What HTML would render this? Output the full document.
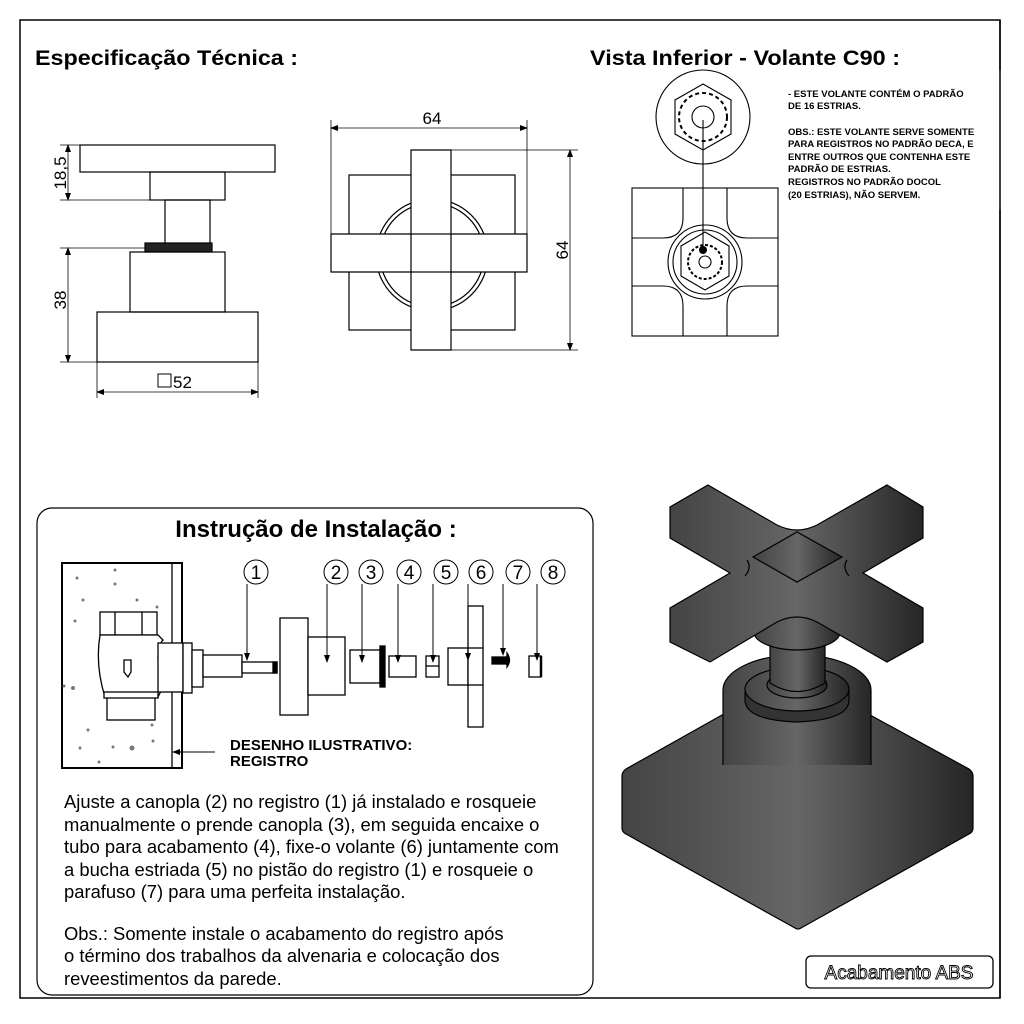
<!DOCTYPE html>
<html><head><meta charset="utf-8"><style>
html,body{margin:0;padding:0;background:#fff}
svg{display:block}
text{font-family:"Liberation Sans",sans-serif}
</style></head><body>
<svg width="1024" height="1024" viewBox="0 0 1024 1024" xmlns="http://www.w3.org/2000/svg">
<defs>
<linearGradient id="g" x1="0" x2="1" y1="0" y2="0">
<stop offset="0" stop-color="#444"/><stop offset="0.5" stop-color="#666"/><stop offset="1" stop-color="#262626"/>
</linearGradient>
<marker id="ar" markerWidth="8" markerHeight="8" refX="7" refY="4" orient="auto" markerUnits="userSpaceOnUse"><path d="M0,1 L8,4 L0,7 z" fill="#000"/></marker>
<marker id="ar2" markerWidth="8" markerHeight="8" refX="1" refY="4" orient="auto" markerUnits="userSpaceOnUse"><path d="M8,1 L0,4 L8,7 z" fill="#000"/></marker>
</defs>
<rect x="20" y="20" width="980" height="978" fill="none" stroke="#000" stroke-width="1.5"/>

<text x="35" y="65" font-size="21" font-weight="bold" textLength="263" lengthAdjust="spacingAndGlyphs">Especificação Técnica :</text>
<text x="590" y="65" font-size="21" font-weight="bold" textLength="310" lengthAdjust="spacingAndGlyphs">Vista Inferior - Volante C90 :</text>

<!-- side view -->
<g fill="none" stroke="#000" stroke-width="1.2">
<rect x="80" y="145" width="195" height="27"/>
<rect x="150" y="172" width="75" height="28"/>
<rect x="165" y="200" width="45" height="44"/>
<rect x="145" y="243" width="67" height="9" fill="#222"/>
<rect x="130" y="252" width="95" height="60"/>
<rect x="97" y="312" width="161" height="50"/>
<g stroke-width="0.8">
<line x1="60" y1="145" x2="80" y2="145"/><line x1="60" y1="200" x2="150" y2="200"/>
<line x1="68" y1="145" x2="68" y2="200" marker-start="url(#ar2)" marker-end="url(#ar)"/>
<line x1="60" y1="248" x2="145" y2="248"/><line x1="60" y1="362" x2="97" y2="362"/>
<line x1="68" y1="248" x2="68" y2="362" marker-start="url(#ar2)" marker-end="url(#ar)"/>
<line x1="97" y1="362" x2="97" y2="398"/><line x1="258" y1="362" x2="258" y2="398"/>
<line x1="97" y1="392" x2="258" y2="392" marker-start="url(#ar2)" marker-end="url(#ar)"/>
</g>
<rect x="158" y="374" width="13" height="13" stroke-width="1"/>
</g>
<text x="66" y="173" font-size="17" transform="rotate(-90 66 173)" text-anchor="middle">18,5</text>
<text x="66" y="300" font-size="17" transform="rotate(-90 66 300)" text-anchor="middle">38</text>
<text x="173" y="388" font-size="17">52</text>

<!-- front view -->
<g fill="none" stroke="#000" stroke-width="1.2">
<rect x="349" y="175" width="166" height="155"/>
<circle cx="432" cy="255" r="56" fill="#fff"/>
<circle cx="432" cy="255" r="52"/>
<path d="M411,150 h40 v84 h76 v38 h-76 v78 h-40 v-78 h-80 v-38 h80 z" fill="#fff"/>
<rect x="411" y="234" width="40" height="38"/>
<g stroke-width="0.8">
<line x1="331" y1="120" x2="331" y2="234"/><line x1="527" y1="120" x2="527" y2="234"/>
<line x1="331" y1="128" x2="527" y2="128" marker-start="url(#ar2)" marker-end="url(#ar)"/>
<line x1="451" y1="150" x2="578" y2="150"/><line x1="451" y1="350" x2="578" y2="350"/>
<line x1="570" y1="150" x2="570" y2="350" marker-start="url(#ar2)" marker-end="url(#ar)"/>
</g>
</g>
<text x="432" y="124" font-size="17" text-anchor="middle">64</text>
<text x="568" y="250" font-size="17" transform="rotate(-90 568 250)" text-anchor="middle">64</text>

<!-- bottom view -->
<g fill="none" stroke="#000" stroke-width="1.1">
<circle cx="703" cy="117" r="47"/>
<polygon points="703,84 731,100 731,134 703,150 675,134 675,100"/>
<circle cx="703" cy="117" r="24" stroke-dasharray="4 3" stroke-width="2"/>
<circle cx="703" cy="117" r="11"/>
<rect x="632" y="188" width="146" height="148"/>
<path d="M683,188 v30 q0,20 -20,20 h-31 M727,188 v30 q0,20 20,20 h31 M683,336 v-30 q0,-20 -20,-20 h-31 M727,336 v-30 q0,-20 20,-20 h31"/>
<circle cx="705" cy="262" r="37"/><circle cx="705" cy="262" r="32"/>
<polygon points="705,232 729,246 729,276 705,290 681,276 681,246"/>
<circle cx="705" cy="262" r="17" stroke-dasharray="3 2" stroke-width="2"/>
<circle cx="705" cy="262" r="6"/>
<line x1="703" y1="120" x2="703" y2="250"/>
</g>
<circle cx="703" cy="250" r="4" fill="#000"/>
<g font-size="9.5" font-weight="bold">
<text x="788" y="97">- ESTE VOLANTE CONTÉM O PADRÃO</text>
<text x="788" y="109">DE 16 ESTRIAS.</text>
<text x="788" y="135">OBS.: ESTE VOLANTE SERVE SOMENTE</text>
<text x="788" y="147">PARA REGISTROS NO PADRÃO DECA, E</text>
<text x="788" y="160">ENTRE OUTROS QUE CONTENHA ESTE</text>
<text x="788" y="172">PADRÃO DE ESTRIAS.</text>
<text x="788" y="185">REGISTROS NO PADRÃO DOCOL</text>
<text x="788" y="198">(20 ESTRIAS), NÃO SERVEM.</text>
</g>
<rect x="996" y="70" width="8" height="140" fill="#fff"/>
<line x1="1000" y1="20" x2="1000" y2="998" stroke="#000" stroke-width="1.5"/>

<!-- install box -->
<rect x="37" y="508" width="556" height="487" rx="15" fill="none" stroke="#000" stroke-width="1.2"/>
<text x="316" y="537" font-size="24" font-weight="bold" text-anchor="middle">Instrução de Instalação :</text>
<g stroke="#000" fill="none" stroke-width="1.3">
<rect x="62" y="563" width="120" height="205" stroke-width="2"/>
<line x1="172" y1="563" x2="172" y2="768"/>
<g fill="#777" stroke="none">
<circle cx="77" cy="578" r="1.5"/><circle cx="115" cy="570" r="1.5"/><circle cx="115" cy="584" r="1.5"/><circle cx="83" cy="600" r="1.5"/><circle cx="137" cy="600" r="1.5"/><circle cx="75" cy="621" r="1.5"/><circle cx="157" cy="607" r="1.5"/><circle cx="73" cy="688" r="2"/><circle cx="152" cy="725" r="1.5"/><circle cx="80" cy="748" r="1.5"/><circle cx="113" cy="747" r="1.5"/><circle cx="132" cy="748" r="2.5"/><circle cx="99" cy="762" r="1.5"/><circle cx="153" cy="741" r="1.5"/><circle cx="64" cy="686" r="1.5"/><circle cx="88" cy="730" r="1.5"/>
</g>
<rect x="100" y="612" width="57" height="23" fill="#fff"/>
<line x1="115" y1="612" x2="115" y2="635"/><line x1="142" y1="612" x2="142" y2="635"/>
<path d="M100,635 q-5,30 5,62 h53 l5,-10 l12,-5 l-12,-2 l-5,-20 q0,-15 5,-20 l-5,-5 z" fill="#fff"/>
<rect x="107" y="697" width="48" height="23" fill="#fff"/>
<rect x="104" y="692" width="54" height="6" fill="#fff"/>
<path d="M124,660 h7 v12 l-3,5 l-4,-5 z"/>
<rect x="158" y="643" width="25" height="49" fill="#fff"/>
<rect x="183" y="643" width="9" height="50" fill="#fff"/>
<rect x="192" y="650" width="11" height="37" fill="#fff"/>
<rect x="203" y="655" width="39" height="22" fill="#fff"/>
<rect x="242" y="662" width="35" height="11" fill="#fff"/>
<rect x="273" y="662" width="4" height="11" fill="#000"/>
<rect x="280" y="618" width="28" height="97" fill="#fff"/>
<rect x="308" y="637" width="37" height="58" fill="#fff"/>
<rect x="350" y="650" width="30" height="33"/>
<rect x="380" y="646" width="5" height="41" fill="#000"/>
<rect x="389" y="656" width="27" height="21"/>
<rect x="426" y="656" width="13" height="21"/><line x1="426" y1="666" x2="439" y2="666"/>
<rect x="448" y="648" width="20" height="37"/>
<rect x="468" y="606" width="15" height="121" fill="#fff"/>
<line x1="468" y1="648" x2="483" y2="648"/><line x1="468" y1="685" x2="483" y2="685"/>
<rect x="492" y="657" width="14" height="7" fill="#000"/>
<path d="M507,653 q5,7 0,14 z" fill="#000"/>
<rect x="529" y="656" width="12" height="21"/><line x1="541" y1="656" x2="541" y2="677" stroke-width="2.5"/>
<g stroke-width="1">
<line x1="247" y1="584" x2="247" y2="660" marker-end="url(#ar)"/>
<line x1="327" y1="584" x2="327" y2="662" marker-end="url(#ar)"/>
<line x1="362" y1="584" x2="362" y2="662" marker-end="url(#ar)"/>
<line x1="398" y1="584" x2="398" y2="662" marker-end="url(#ar)"/>
<line x1="433" y1="584" x2="433" y2="662" marker-end="url(#ar)"/>
<line x1="468" y1="584" x2="468" y2="660" marker-end="url(#ar)"/>
<line x1="503" y1="584" x2="503" y2="655" marker-end="url(#ar)"/>
<line x1="537" y1="584" x2="537" y2="660" marker-end="url(#ar)"/>
<line x1="215" y1="752" x2="173" y2="752" marker-end="url(#ar)"/>
</g>
<g stroke-width="1">
<circle cx="256" cy="572" r="12"/><circle cx="336" cy="572" r="12"/><circle cx="371" cy="572" r="12"/><circle cx="409" cy="572" r="12"/><circle cx="446" cy="572" r="12"/><circle cx="481" cy="572" r="12"/><circle cx="518" cy="572" r="12"/><circle cx="553" cy="572" r="12"/>
</g>
</g>
<g font-size="19" text-anchor="middle">
<text x="256" y="579">1</text><text x="336" y="579">2</text><text x="371" y="579">3</text><text x="409" y="579">4</text><text x="446" y="579">5</text><text x="481" y="579">6</text><text x="518" y="579">7</text><text x="553" y="579">8</text>
</g>
<text x="230" y="750" font-size="15" font-weight="bold">DESENHO ILUSTRATIVO:</text>
<text x="230" y="766" font-size="15" font-weight="bold">REGISTRO</text>
<g font-size="18.4">
<text x="64" y="808">Ajuste a canopla (2) no registro (1) já instalado e rosqueie</text>
<text x="64" y="831">manualmente o prende canopla (3), em seguida encaixe o</text>
<text x="64" y="853">tubo para acabamento (4), fixe-o volante (6) juntamente com</text>
<text x="64" y="876">a bucha estriada (5) no pistão do registro (1) e rosqueie o</text>
<text x="64" y="898">parafuso (7) para uma perfeita instalação.</text>
<text x="64" y="940">Obs.: Somente instale o acabamento do registro após</text>
<text x="64" y="962">o término dos trabalhos da alvenaria e colocação dos</text>
<text x="64" y="985">reveestimentos da parede.</text>
</g>

<!-- 3D render -->
<g stroke="#000" stroke-width="1.2" fill="url(#g)">
<path d="M722,715 L626,769 Q622,772 622,776 L622,828 Q622,832 626,834 L795,928 Q798,930 801,928 L969,834 Q973,832 973,828 L973,776 Q973,772 969,769 L870,715 z"/>
<path d="M723,765 L723,690 A74,35 0 0 1 871,690 L871,765" fill="url(#g)"/>
<path d="M745,693 A52,25 0 0 1 849,693 L849,700 Q849,720 797,722 Q745,720 745,700 z" fill="#333"/>
<ellipse cx="797" cy="689" rx="52" ry="22" fill="url(#g)"/>
<ellipse cx="797" cy="685" rx="30" ry="13" fill="url(#g)"/>
<path d="M770,620 L770,683 Q797,700 825,683 L825,620 z"/>
<ellipse cx="797" cy="632" rx="43" ry="18"/>
<path d="M708,485 L777,525 Q797,535 817,525 L887,485 L923,507 L923,538 L863,573 L923,608 L923,642 L887,662 L817,622 Q797,612 777,622 L710,662 L670,642 L670,608 L730,573 L670,538 L670,507 z"/>
<path d="M747,560 Q752,568 745,576 M847,560 Q842,568 849,576" fill="none"/>
<polygon points="753,557 797,532 842,557 797,582" fill="url(#g)"/>
</g>
<rect x="806" y="956" width="187" height="32" rx="5" fill="#fff" stroke="#000" stroke-width="1.3"/>
<text x="899" y="979" font-size="19" text-anchor="middle" fill="#fff" stroke="#000" stroke-width="0.9">Acabamento ABS</text>
</svg>
</body></html>
